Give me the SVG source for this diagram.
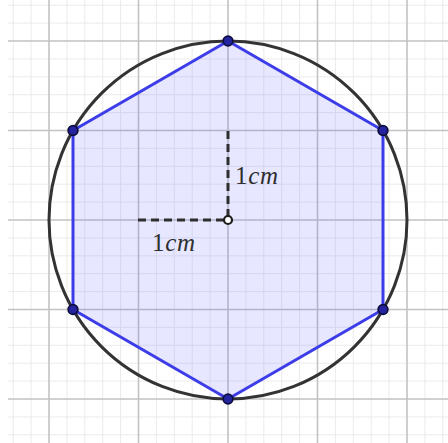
<svg xmlns="http://www.w3.org/2000/svg" width="448" height="443" viewBox="0 0 448 443">
<style>
.minor{stroke:#ebebeb;stroke-width:1;fill:none}
.major{stroke:#c2c2c2;stroke-width:1.6;fill:none}
.dash{stroke:#2e2e2e;stroke-width:3;stroke-dasharray:8 5;fill:none}
.lbl{font-family:"Liberation Serif","Times New Roman","DejaVu Serif",serif;font-size:25px;fill:#2e2e2e}
.it{font-style:italic}
.vtx{fill:#2424a0;stroke:#0c0c40;stroke-width:1.8}
</style>
<rect width="448" height="443" fill="#fff"/>
<g id="grid">
<path class="minor" d="M13.2 0V443M31.1 0V443M66.9 0V443M84.8 0V443M102.7 0V443M120.6 0V443M156.4 0V443M174.3 0V443M192.2 0V443M210.1 0V443M245.9 0V443M263.8 0V443M281.7 0V443M299.6 0V443M335.4 0V443M353.3 0V443M371.2 0V443M389.1 0V443M424.9 0V443M442.8 0V443M8 5.2H448M8 23.1H448M8 58.9H448M8 76.8H448M8 94.7H448M8 112.6H448M8 148.4H448M8 166.3H448M8 184.2H448M8 202.1H448M8 237.9H448M8 255.8H448M8 273.7H448M8 291.6H448M8 327.4H448M8 345.3H448M8 363.2H448M8 381.1H448M8 416.9H448M8 434.8H448"/>
<path class="major" d="M49 0V443M138.5 0V443M228 0V443M317.5 0V443M407 0V443M8 41H448M8 130.5H448M8 220H448M8 309.5H448M8 399H448"/>
</g>
<g id="hexagon">
<polygon points="228,41 383,130.5 383,309.5 228,399 73,309.5 73,130.5" fill="#6a6aff" fill-opacity="0.16" stroke="#3c3ce8" stroke-width="3" stroke-linejoin="round"/>
</g>
<g id="circle">
<circle cx="228" cy="220" r="179" fill="none" stroke="#333" stroke-width="3"/>
</g>
<g id="connectors">
<path class="dash" d="M228 131V216"/>
<path class="dash" d="M138 220H224"/>
</g>
<g id="labels">
<text class="lbl" x="235" y="184" textLength="43" lengthAdjust="spacing">1<tspan class="it">cm</tspan></text>
<text class="lbl" x="152" y="251" textLength="43" lengthAdjust="spacing">1<tspan class="it">cm</tspan></text>
</g>
<g id="center">
<circle cx="228" cy="220" r="4" fill="#fff" stroke="#1e1e1e" stroke-width="2.2"/>
</g>
<g id="vertices">
<circle id="v1" class="vtx" cx="228" cy="41" r="4.8"/>
<circle id="v2" class="vtx" cx="383" cy="130.5" r="4.8"/>
<circle id="v3" class="vtx" cx="383" cy="309.5" r="4.8"/>
<circle id="v4" class="vtx" cx="228" cy="399" r="4.8"/>
<circle id="v5" class="vtx" cx="73" cy="309.5" r="4.8"/>
<circle id="v6" class="vtx" cx="73" cy="130.5" r="4.8"/>
</g>
</svg>
